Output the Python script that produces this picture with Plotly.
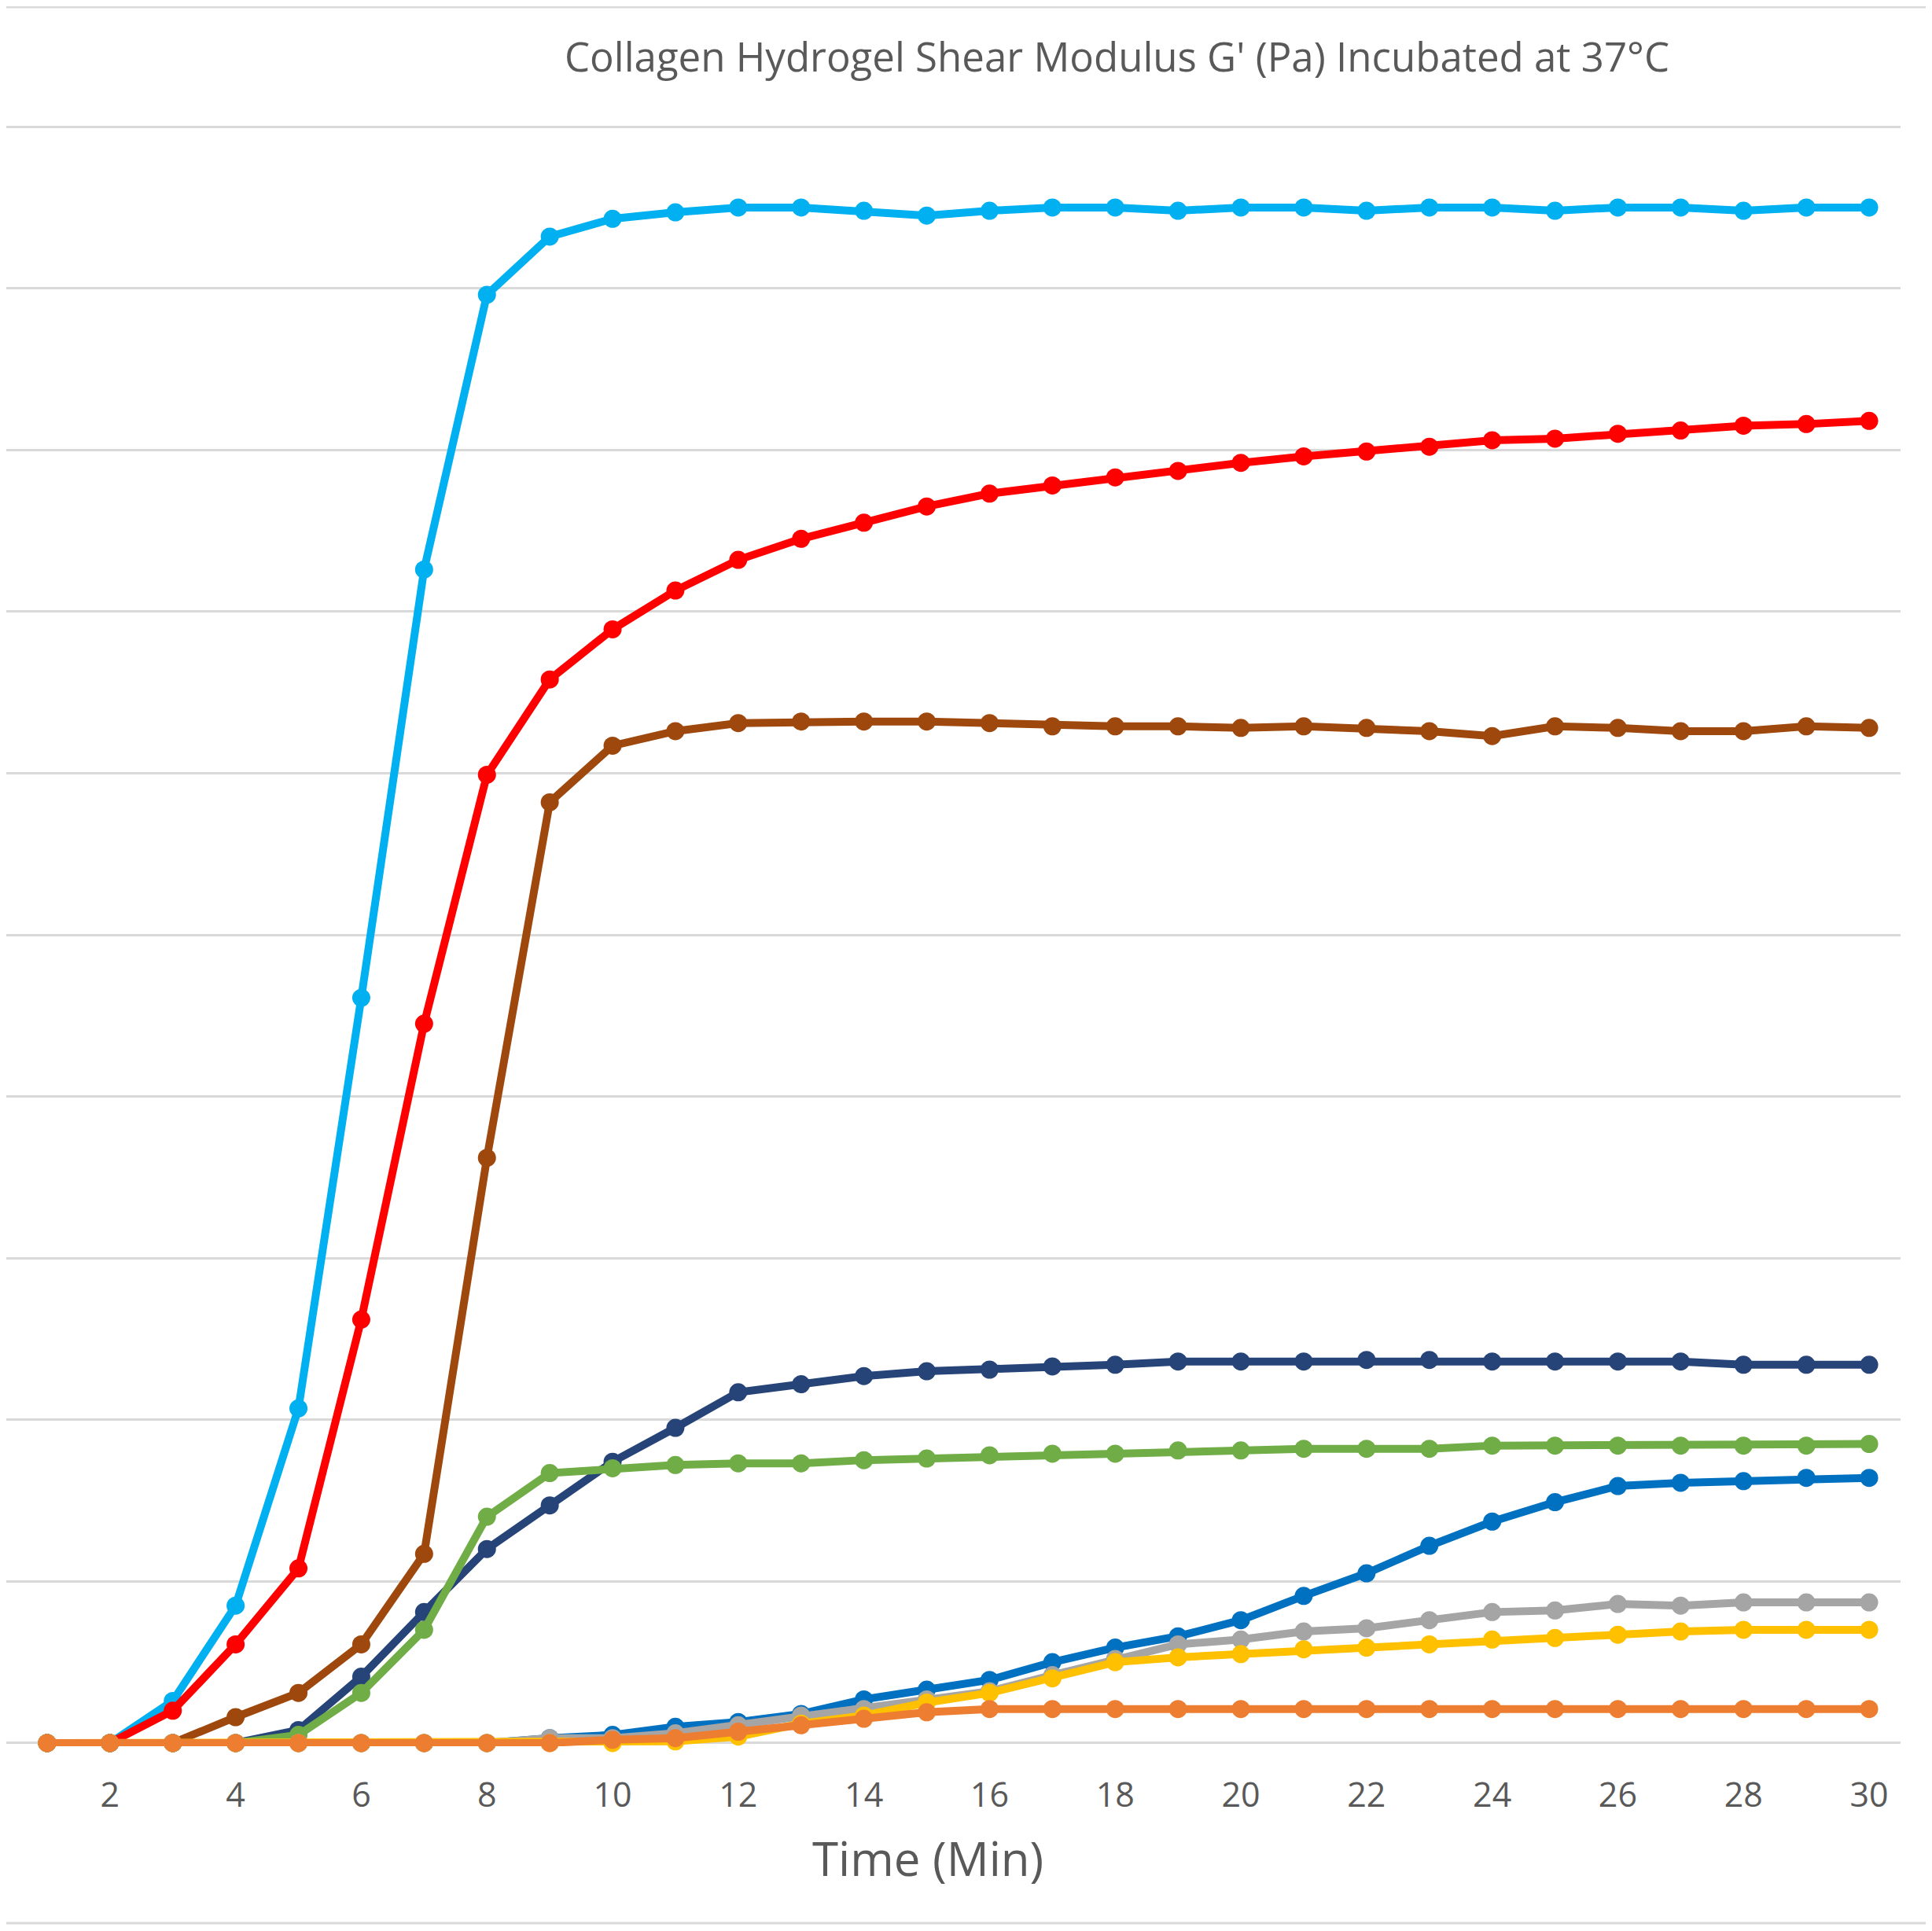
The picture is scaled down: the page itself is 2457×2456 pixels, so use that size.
import plotly.graph_objects as go

# minutes on the category axis
minutes = [1, 2, 3, 4, 5, 6, 7, 8, 9, 10, 11, 12, 13, 14, 15,
           16, 17, 18, 19, 20, 21, 22, 23, 24, 25, 26, 27, 28, 29, 30]
tick_minutes = [2, 4, 6, 8, 10, 12, 14, 16, 18, 20, 22, 24, 26, 28, 30]
tick_text = ["2", "4", "6", "8", "10", "12", "14", "16", "18", "20", "22", "24", "26", "28", "30"]
grid_values = [0, 100, 200, 300, 400, 500, 600, 700, 800, 900, 1000]

# G' values (no y labels in the source, units are relative)
light_blue = [0, 0, 26, 85, 207, 461, 726, 896, 932, 943, 947, 950, 950, 948, 945,
              948, 950, 950, 948, 950, 950, 948, 950, 950, 948, 950, 950, 948, 950, 950]
red = [0, 0, 20, 61, 108, 262, 445, 599, 658, 689, 713, 732, 745, 755, 765,
       773, 778, 783, 787, 792, 796, 799, 802, 806, 807, 810, 812, 815, 816, 818]
brown = [0, 0, 0, 16, 31, 61, 117, 362, 582, 617, 626, 631, 632, 632, 632,
         631, 629, 629, 629, 628, 629, 628, 626, 623, 629, 628, 626, 626, 629, 628]
navy = [0, 0, 0, 0, 8, 41, 81, 120, 147, 174, 195, 217, 222, 227, 230,
        231, 233, 234, 236, 236, 236, 237, 237, 236, 236, 236, 236, 234, 234, 234]
green = [0, 0, 0, 0, 5, 31, 70, 140, 167, 170, 172, 173, 173, 175, 176,
         178, 179, 179, 181, 181, 182, 182, 182, 184, 184, 184, 184, 184, 184, 185]
mid_blue = [0, 0, 0, 0, 0, 0, 0, 0, 3, 5, 10, 13, 18, 27, 33,
            39, 50, 59, 66, 76, 91, 105, 122, 137, 149, 159, 161, 162, 164, 164]
gray = [0, 0, 0, 0, 0, 0, 0, 0, 3, 3, 6, 11, 17, 21, 27,
        32, 42, 52, 61, 64, 69, 71, 76, 81, 82, 86, 85, 87, 87, 87]
yellow = [0, 0, 0, 0, 0, 0, 0, 0, 0, 0, 1, 4, 12, 17, 25,
          31, 40, 50, 53, 55, 58, 59, 61, 64, 65, 67, 69, 70, 70, 70]
orange = [0, 0, 0, 0, 0, 0, 0, 0, 0, 2, 3, 7, 11, 15, 19,
          21, 21, 21, 21, 21, 21, 21, 21, 21, 21, 21, 21, 21, 21, 21]

series = [
    ("Series 1", light_blue, "#00B0F0"),
    ("Series 2", red, "#FF0000"),
    ("Series 3", brown, "#9E480E"),
    ("Series 4", navy, "#264478"),
    ("Series 5", green, "#70AD47"),
    ("Series 6", mid_blue, "#0070C0"),
    ("Series 7", gray, "#A5A5A5"),
    ("Series 8", yellow, "#FFC000"),
    ("Series 9", orange, "#ED7D31"),
]

# the page body has an 8px margin, so the figure sits at (8, 8)
BODY = 8
W, H = 2457 - 2 * BODY, 2456 - 2 * BODY
M_L, M_R, M_T, M_B = 0, 32, 149, 227
PLOT_W = W - M_L - M_R
PLOT_H = H - M_T - M_B
TEXT = "#595959"
GRID = "#D9D9D9"
FONT = "Open Sans"


def px_x(page_x: float) -> float:
    return (page_x - BODY - M_L) / PLOT_W


def px_y(page_y: float) -> float:
    return (H - M_B - (page_y - BODY)) / PLOT_H


fig = go.Figure()
for name, values, color in series:
    fig.add_trace(go.Scatter(x=minutes, y=values, name=name, mode="lines+markers",
                             line=dict(color=color, width=10),
                             marker=dict(color=color, size=23),
                             cliponaxis=False))

fig.update_layout(
    width=W, height=H,
    margin=dict(l=M_L, r=M_R, t=M_T, b=M_B, pad=0),
    paper_bgcolor="white", plot_bgcolor="white",
    showlegend=False,
    font=dict(family=FONT, color=TEXT),
)
fig.update_xaxes(range=[0.35, 30.5], tickvals=tick_minutes, ticktext=tick_text,
                 showgrid=False, zeroline=False, showline=False,
                 ticks="outside", ticklen=24, tickcolor="rgba(0,0,0,0)",
                 tickfont=dict(family=FONT, size=43, color=TEXT))
fig.update_yaxes(range=[-2, 1002], tickvals=grid_values, showticklabels=False,
                 showgrid=True, gridcolor=GRID, gridwidth=3,
                 zeroline=True, zerolinecolor=GRID, zerolinewidth=3, showline=False)

fig.add_annotation(text="Collagen Hydrogel Shear Modulus G' (Pa) Incubated at 37°C",
                   xref="paper", yref="paper", x=px_x(1420), y=px_y(71),
                   showarrow=False, xanchor="center", yanchor="middle",
                   font=dict(family=FONT, size=51, color=TEXT))
fig.add_annotation(text="Time (Min)", xref="paper", yref="paper",
                   x=px_x(1180), y=px_y(2363), showarrow=False,
                   xanchor="center", yanchor="middle",
                   font=dict(family=FONT, size=60, color=TEXT))

# chart-area border, top and bottom edges (as close as the page allows)
for yp in (BODY + 1, BODY + H - 2):
    fig.add_shape(type="line", xref="paper", yref="paper",
                  x0=px_x(BODY), x1=px_x(BODY + W), y0=px_y(yp), y1=px_y(yp),
                  line=dict(color=GRID, width=3))

fig.write_html("out.html")
